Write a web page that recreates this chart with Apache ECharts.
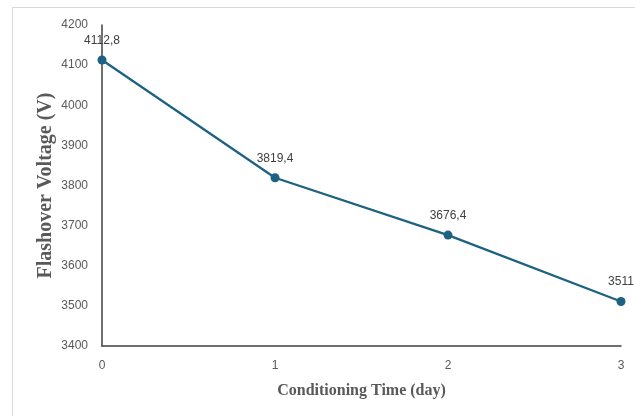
<!DOCTYPE html>
<html>
<head>
<meta charset="utf-8">
<script src="https://cdn.jsdelivr.net/npm/echarts@6/dist/echarts.min.js"></script>
<style>
html,body{margin:0;padding:0;background:#fff;}
#frame{position:absolute;left:12px;top:7px;width:640px;height:420px;border:1px solid #d9d9d9;box-sizing:border-box;}
#chart{position:absolute;left:0;top:0;width:635px;height:416px;}
</style>
</head>
<body>
<div id="frame"></div>
<div id="chart"></div>
<script>
const days = [0, 1, 2, 3];
const voltages = [4112.8, 3819.4, 3676.4, 3511];
const pointLabels = ['4112,8', '3819,4', '3676,4', '3511'];
const yTicks = [3400, 3500, 3600, 3700, 3800, 3900, 4000, 4100, 4200];

const chart = echarts.init(document.getElementById('chart'), null, {renderer: 'canvas'});
chart.setOption({
  animation: false,
  grid: {left: 102, right: 14, top: 25, bottom: 70},
  xAxis: {
    type: 'value', min: 0, max: 3, interval: 1,
    name: 'Conditioning Time (day)', nameLocation: 'middle', nameGap: 37,
    nameTextStyle: {fontFamily: 'Liberation Serif', fontWeight: 'bold', fontSize: 16, color: '#595959'},
    axisLine: {lineStyle: {color: '#404040', width: 1.5}},
    axisTick: {show: false},
    splitLine: {show: false},
    axisLabel: {color: '#595959', fontSize: 12, fontFamily: 'Liberation Sans', margin: 14}
  },
  yAxis: {
    type: 'value', min: yTicks[0], max: yTicks[yTicks.length - 1], interval: 100,
    name: 'Flashover Voltage (V)', nameLocation: 'middle', nameGap: 46, nameMoveOverlap: false,
    nameTextStyle: {fontFamily: 'Liberation Serif', fontWeight: 'bold', fontSize: 20, color: '#595959'},
    axisLine: {show: true, lineStyle: {color: '#404040', width: 1.5}},
    axisTick: {show: false},
    splitLine: {show: false},
    axisLabel: {color: '#595959', fontSize: 12, fontFamily: 'Liberation Sans', margin: 14, formatter: v => String(v)}
  },
  series: [{
    type: 'line',
    data: days.map((d, i) => [d, voltages[i]]),
    symbol: 'circle', symbolSize: 9,
    lineStyle: {color: '#1d6282', width: 2.25},
    itemStyle: {color: '#1d6282'},
    label: {
      show: true, position: 'top', distance: 9,
      color: '#404040', fontSize: 12, fontFamily: 'Liberation Sans',
      formatter: p => pointLabels[p.dataIndex]
    }
  }]
});
</script>
</body>
</html>
